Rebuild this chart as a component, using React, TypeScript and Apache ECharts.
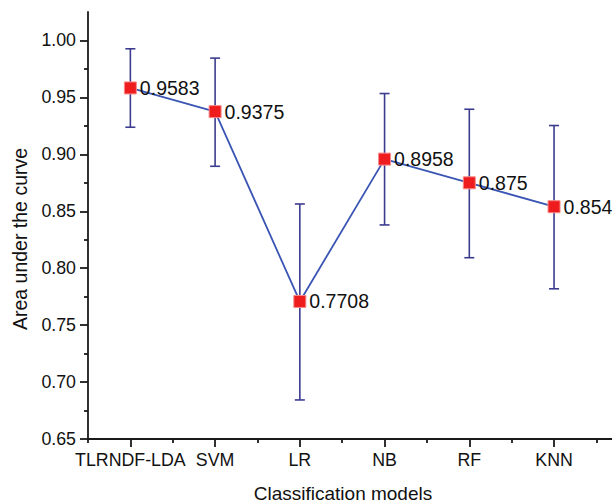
import React, { useEffect, useRef } from "react";
import * as echarts from "echarts";

const categories = ["TLRNDF-LDA", "SVM", "LR", "NB", "RF", "KNN"];
const aucValues = [0.9583, 0.9375, 0.7708, 0.8958, 0.875, 0.854];
const aucLabels = ["0.9583", "0.9375", "0.7708", "0.8958", "0.875", "0.854"];
const errLow = [0.9238, 0.8895, 0.6843, 0.838, 0.8092, 0.7819];
const errHigh = [0.9927, 0.9845, 0.8564, 0.9534, 0.9396, 0.9253];
const yMajorTicks = [0.65, 0.7, 0.75, 0.8, 0.85, 0.9, 0.95, 1.0];
const yMinorTicks = [0.675, 0.725, 0.775, 0.825, 0.875, 0.925, 0.975];
const xMajorTicks = [1, 2, 3, 4, 5, 6];
const xMinorTicks = [0.5, 1.5, 2.5, 3.5, 4.5, 5.5, 6.5];

const FONT = "'Liberation Sans', Arial, Helvetica, sans-serif";
const AXIS_COLOR = "#1a1a1a";

export default function App() {
  const ref = useRef<HTMLDivElement>(null);
  useEffect(() => {
    if (!ref.current) return;
    const chart = echarts.init(ref.current, null, { renderer: "svg" });
    const xBase = {
      type: "value",
      min: 0.5,
      max: 6.684,
      interval: 0.5,
      position: "bottom",
      splitLine: { show: false },
    };
    const yBase = {
      type: "value",
      min: 0.65,
      max: 1.025,
      interval: 0.025,
      position: "left",
      splitLine: { show: false },
    };
    chart.setOption({
      animation: false,
      backgroundColor: "#ffffff",
      grid: { left: 88, right: 0, top: 12, bottom: 63, containLabel: false },
      xAxis: [
        {
          ...xBase,
          axisLine: { show: true, lineStyle: { color: AXIS_COLOR, width: 1.8 } },
          axisTick: { show: true, inside: false, length: 8, customValues: xMajorTicks, lineStyle: { color: AXIS_COLOR, width: 1.8 } },
          axisLabel: {
            show: true,
            customValues: xMajorTicks,
            margin: 12,
            fontSize: 17.8,
            fontFamily: FONT,
            color: "#111",
            formatter: (v: number) => categories[Math.round(v) - 1] ?? "",
          },
        },
        {
          ...xBase,
          axisLine: { show: false },
          axisTick: { show: true, inside: false, length: 4, customValues: xMinorTicks, lineStyle: { color: AXIS_COLOR, width: 1.8 } },
          axisLabel: { show: false },
        },
      ],
      yAxis: [
        {
          ...yBase,
          axisLine: { show: true, lineStyle: { color: AXIS_COLOR, width: 1.8 } },
          axisTick: { show: true, inside: false, length: 8, customValues: yMajorTicks, lineStyle: { color: AXIS_COLOR, width: 1.8 } },
          axisLabel: {
            show: true,
            customValues: yMajorTicks,
            margin: 12,
            fontSize: 17.8,
            fontFamily: FONT,
            color: "#111",
            formatter: (v: number) => v.toFixed(2),
          },
        },
        {
          ...yBase,
          axisLine: { show: false },
          axisTick: { show: true, inside: false, length: 4, customValues: yMinorTicks, lineStyle: { color: AXIS_COLOR, width: 1.8 } },
          axisLabel: { show: false },
        },
      ],
      graphic: [
        {
          type: "text",
          x: 343,
          y: 493,
          style: {
            text: "Classification models",
            fontSize: 19,
            fontFamily: FONT,
            fill: "#111",
            align: "center",
            verticalAlign: "middle",
          },
        },
        {
          type: "text",
          x: 20,
          y: 239,
          rotation: Math.PI / 2,
          style: {
            text: "Area under the curve",
            fontSize: 19.5,
            fontFamily: FONT,
            fill: "#111",
            align: "center",
            verticalAlign: "middle",
          },
        },
      ],
      series: [
        {
          type: "custom",
          xAxisIndex: 0,
          yAxisIndex: 0,
          z: 1,
          data: categories.map((_, i) => [i + 1, errLow[i], errHigh[i]]),
          renderItem: (params: any, api: any) => {
            const x = api.value(0);
            const lo = api.coord([x, api.value(1)]);
            const hi = api.coord([x, api.value(2)]);
            const half = 5;
            const style = { stroke: "#3c3c8e", lineWidth: 1.6 };
            return {
              type: "group",
              children: [
                { type: "line", shape: { x1: lo[0], y1: lo[1], x2: hi[0], y2: hi[1] }, style },
                { type: "line", shape: { x1: lo[0] - half, y1: lo[1], x2: lo[0] + half, y2: lo[1] }, style },
                { type: "line", shape: { x1: hi[0] - half, y1: hi[1], x2: hi[0] + half, y2: hi[1] }, style },
              ],
            };
          },
        },
        {
          type: "line",
          xAxisIndex: 0,
          yAxisIndex: 0,
          z: 3,
          data: categories.map((_, i) => [i + 1, aucValues[i]]),
          lineStyle: { color: "#3a55b4", width: 1.8 },
          symbol: "rect",
          symbolSize: 12,
          itemStyle: { color: "#ee1c1c", borderColor: "#f78a8a", borderWidth: 1 },
          label: {
            show: true,
            position: "right",
            distance: 3,
            fontSize: 19.5,
            fontFamily: FONT,
            color: "#111",
            formatter: (p: any) => aucLabels[p.dataIndex],
          },
        },
      ],
    });
    return () => chart.dispose();
  }, []);
  return <div ref={ref} style={{ width: 612, height: 502, position: "absolute", left: 0, top: 0 }} />;
}
